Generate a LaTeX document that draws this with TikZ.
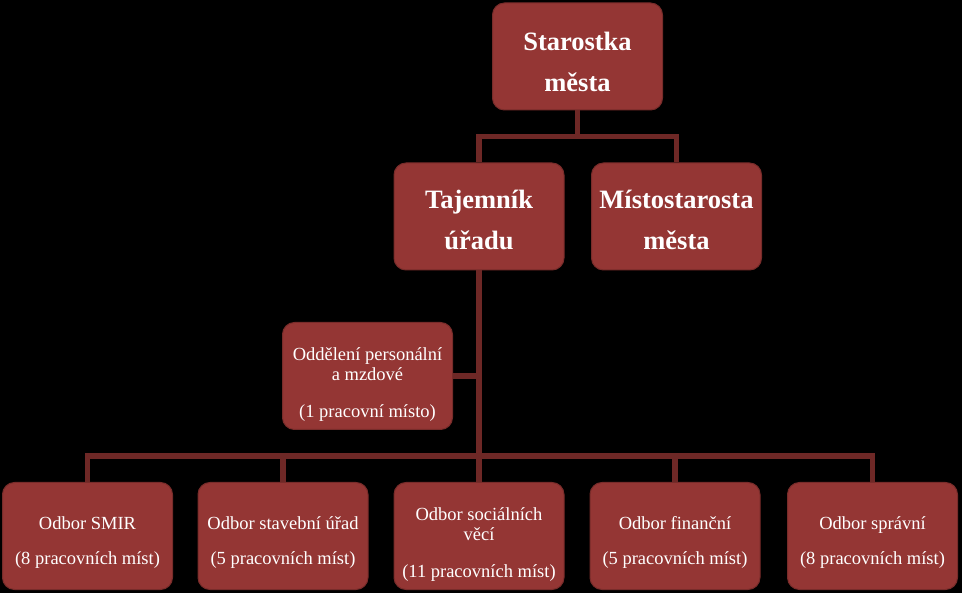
\documentclass[tikz,border=0pt]{standalone}
\usepackage{fontspec}
\setmainfont{Liberation Serif}
\usetikzlibrary{positioning}
\definecolor{boxfill}{RGB}{148,54,52}
\definecolor{boxedge}{RGB}{120,44,42}
\definecolor{connline}{RGB}{110,40,38}

\begin{document}
\begin{tikzpicture}[x=1pt, y=-1pt,
    orgbox/.style={draw=boxedge, line width=1pt, fill=boxfill, rounded corners=12pt, minimum width=170pt, minimum height=107pt, inner sep=0pt},
    headtext/.style={anchor=base, align=center, text=white, inner sep=0pt, font=\fontsize{26.5}{41}\selectfont\bfseries},
    unittext/.style={anchor=base, align=center, text=white, inner sep=0pt, font=\fontsize{18.5}{20}\selectfont},
    conn/.style={draw=connline, line width=5.5pt}
]
\fill[black] (0,0) rectangle (962,593);
\useasboundingbox (0,0) rectangle (962,593);

% vedeni
\node[orgbox] (starostka) at (577.5,56.5) {};
\node[headtext] (starostka-t) at ([yshift=-35pt]starostka.center) {Starostka\\města};
\node[orgbox] (tajemnik) at (479,216.5) {};
\node[headtext] (tajemnik-t) at ([yshift=-33.5pt]tajemnik.center) {Tajemník\\úřadu};
\node[orgbox] (mistostarosta) at (676.5,216.5) {};
\node[headtext] (mistostarosta-t) at ([yshift=-33.5pt]mistostarosta.center) {Místostarosta\\města};

% oddeleni
\node[orgbox] (oddeleni) at (367.5,376) {};
\node[unittext] (oddeleni-t) at ([yshift=-42pt]oddeleni.center) {Oddělení personální\\a mzdové\\[17pt](1 pracovní místo)};

% odbory
\node[orgbox] (smir) at (87.5,536) {};
\node[unittext] (smir-t) at ([yshift=-29pt]smir.center) {Odbor SMIR\\[15pt](8 pracovních míst)};
\node[orgbox] (stavebni) at (283,536) {};
\node[unittext] (stavebni-t) at ([yshift=-29pt]stavebni.center) {Odbor stavební úřad\\[15pt](5 pracovních míst)};
\node[orgbox] (socialni) at (479,536) {};
\node[unittext] (socialni-t) at ([yshift=-41pt]socialni.center) {Odbor sociálních\\věcí\\[17pt](11 pracovních míst)};
\node[orgbox] (financni) at (675,536) {};
\node[unittext] (financni-t) at ([yshift=-29pt]financni.center) {Odbor finanční\\[15pt](5 pracovních míst)};
\node[orgbox] (spravni) at (872.5,536) {};
\node[unittext] (spravni-t) at ([yshift=-29pt]spravni.center) {Odbor správní\\[15pt](8 pracovních míst)};

% spojnice
\draw[conn] (starostka.south) -- ++(0,26) coordinate (topbus) -| (tajemnik.north);
\draw[conn] (topbus) -| (mistostarosta.north);
\draw[conn] (tajemnik.south) -- ++(0,185.5) coordinate (bus);
\draw[conn] (oddeleni.east) -- (oddeleni.east -| tajemnik.south);
\foreach \b in {smir,stavebni,socialni,financni,spravni}
  \draw[conn] (bus) -| (\b.north);

\end{tikzpicture}
\end{document}
